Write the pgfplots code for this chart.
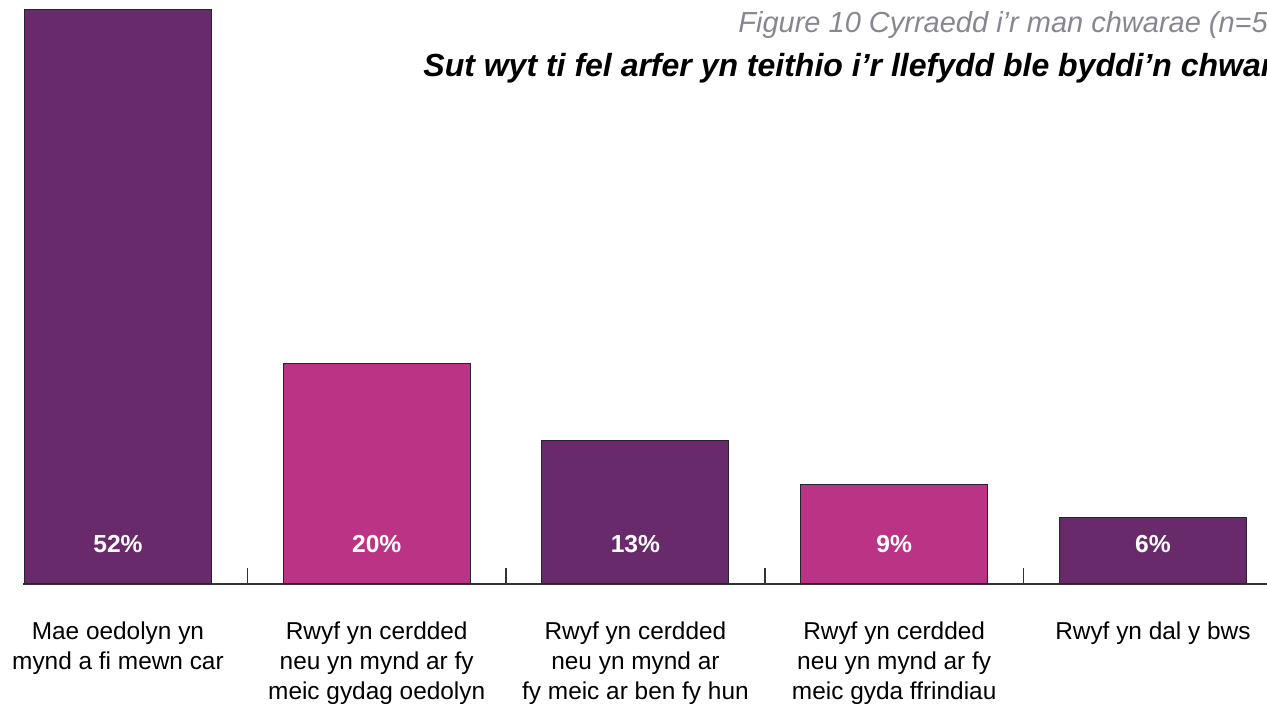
\documentclass[border=0pt]{standalone}
\usepackage{fontspec}
\setmainfont{Liberation Sans}
\usepackage{pgfplots}
\pgfplotsset{compat=1.18}

\definecolor{plum}{RGB}{104,42,106}
\definecolor{magenta}{RGB}{187,51,133}
\definecolor{titlegray}{RGB}{135,135,145}
\tikzset{barlab/.style={text=white, font=\fontsize{12.3}{14}\selectfont\bfseries, yshift=20pt}}

\begin{document}
\begin{tikzpicture}
  \begin{axis}[
      scale only axis,
      width=622pt, height=292pt,
      xmin=-0.367, xmax=4.441,
      ymin=0, ymax=52.9,
      axis x line*=bottom,
      axis y line=none,
      axis line style={draw=black!80, line width=0.75pt},
      xtick={0,1,2,3,4},
      xticklabels={
        {Mae oedolyn yn\\mynd a fi mewn car},
        {Rwyf yn cerdded\\neu yn mynd ar fy\\meic gydag oedolyn},
        {Rwyf yn cerdded\\neu yn mynd ar\\fy meic ar ben fy hun},
        {Rwyf yn cerdded\\neu yn mynd ar fy\\meic gyda ffrindiau},
        {Rwyf yn dal y bws}},
      xticklabel style={align=center, font=\fontsize{12.2}{15}\selectfont,
        yshift=-15.5pt},
      major tick length=0pt,
      minor xtick={0.5,1.5,2.5,3.5},
      minor tick length=8pt,
      tick align=inside,
      minor tick style={draw=black!80, line width=0.75pt},
      bar width=0.723,
    ]
    % purple bars
    \addplot[ybar, fill=plum, draw=black!85, line width=0.5pt] coordinates {
      (0, 52) (2, 13) (4, 6)
    };
    % magenta bars
    \addplot[ybar, fill=magenta, draw=black!85, line width=0.5pt] coordinates {
      (1, 20) (3, 9)
    };
    \node[barlab] at (axis cs:0,0) {52\%};
    \node[barlab] at (axis cs:1,0) {20\%};
    \node[barlab] at (axis cs:2,0) {13\%};
    \node[barlab] at (axis cs:3,0) {9\%};
    \node[barlab] at (axis cs:4,0) {6\%};
  \end{axis}
  \node[anchor=base west, text=titlegray, font=\fontsize{14.5}{17}\selectfont\itshape, inner sep=0pt]
    at (357.5pt,275.5pt) {Figure 10 Cyrraedd i’r man chwarae (n=500)};
  \node[anchor=base west, font=\fontsize{16}{19}\selectfont\bfseries\itshape, inner sep=0pt]
    at (200pt,253.5pt) {Sut wyt ti fel arfer yn teithio i’r llefydd ble byddi’n chwarae?};
  \pgfresetboundingbox
  \path[use as bounding box] (-11.5pt,-60pt) rectangle (622pt,292pt);
\end{tikzpicture}
\end{document}
